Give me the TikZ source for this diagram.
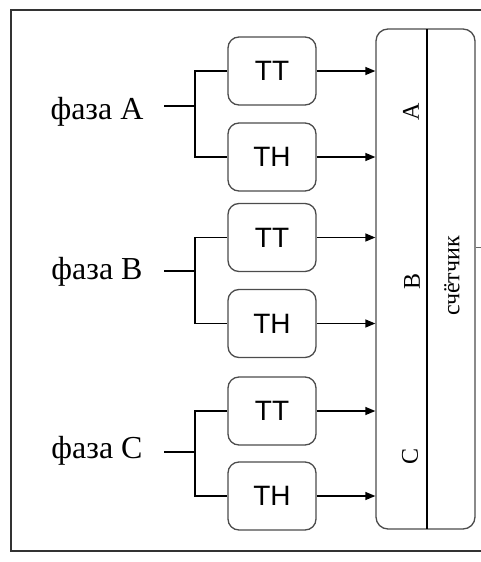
\documentclass[tikz,border=0pt]{standalone}
\usepackage{fontspec}
\setmainfont{Liberation Serif}
\newfontfamily\boxfont{Liberation Sans}
\usetikzlibrary{arrows.meta}
\begin{document}
\begin{tikzpicture}[x=1pt,y=-1pt,
  trbox/.style={draw=black!70,line width=1.3pt,rounded corners=11pt,minimum width=88pt,minimum height=68pt,inner sep=0pt,font=\boxfont\fontsize{28}{30}\selectfont},
  phlabel/.style={inner sep=0pt,font=\fontsize{32}{34}\selectfont},
  cntlabel/.style={inner sep=0pt,rotate=90,font=\fontsize{24}{26}\selectfont},
  wire/.style={line width=1.3pt,black},
  arr/.style={wire,-{Triangle[length=10pt,width=8pt]}}]
\useasboundingbox (0,0) rectangle (480,562);
% outer frame (right edge is outside the picture)
\draw[line width=1.3pt,black!80] (495,10) -- (11,10) -- (11,551) -- (495,551);
% counter
\node[draw=black!70,line width=1.3pt,rounded corners=12pt,minimum width=99pt,minimum height=500pt,inner sep=0pt] (cnt) at (425.5,279) {};
\coordinate (dtop) at (427,29);
\coordinate (dbot) at (427,529);
\draw[wire] (dtop) -- (dbot);
\node[cntlabel] (lA) at (411,112) {A};
\node[cntlabel] (lB) at (412,281) {B};
\node[cntlabel] (lC) at (410,456) {C};
\node[cntlabel] (lcnt) at (452,276) {счётчик};
\coordinate (tick) at (481,247);
\draw[line width=0.8pt,black!60] (tick -| cnt.east) -- (tick);
% transformer boxes
\node[trbox] (ttA) at (272,71) {ТТ};
\node[trbox] (thA) at (272,157) {ТН};
\node[trbox] (ttB) at (272,237.5) {ТТ};
\node[trbox] (thB) at (272,323.5) {ТН};
\node[trbox] (ttC) at (272,411) {ТТ};
\node[trbox] (thC) at (272,496) {ТН};
% phase labels
\node[phlabel] (phA) at (97,112) {фаза A};
\node[phlabel] (phB) at (97,272) {фаза B};
\node[phlabel] (phC) at (97,451) {фаза C};
\coordinate (sA) at (164,106);
\coordinate (sB) at (164,271);
\coordinate (sC) at (164,452);
\coordinate (jA) at (195,106);
\coordinate (jB) at (195,271);
\coordinate (jC) at (195,452);
\foreach \p in {A,B,C}{
  \draw[wire] (s\p) -- (j\p);
  \draw[wire] (j\p) |- (tt\p.west);
  \draw[wire] (j\p) |- (th\p.west);
  \draw[arr] (tt\p.east) -- (tt\p.east -| cnt.west);
  \draw[arr] (th\p.east) -- (th\p.east -| cnt.west);
}
\end{tikzpicture}
\end{document}
